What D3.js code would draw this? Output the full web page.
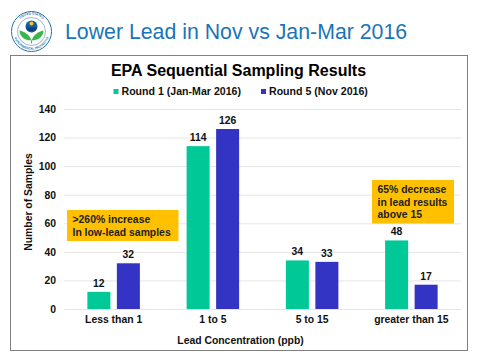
<!DOCTYPE html>
<html>
<head>
<meta charset="utf-8">
<script src="https://cdn.jsdelivr.net/npm/d3@7"></script>
<style>
  html, body { margin: 0; padding: 0; background: #fff; }
  svg { display: block; }
  text { font-family: "Liberation Sans", Arial, sans-serif; }
</style>
</head>
<body>
<svg id="chart" width="480" height="360"></svg>
<script>
const categories = ["Less than 1", "1 to 5", "5 to 15", "greater than 15"];
const round1 = [12, 114, 34, 48];
const round5 = [32, 126, 33, 17];
const seriesNames = ["Round 1 (Jan-Mar 2016)", "Round 5 (Nov 2016)"];
const yTicks = [0, 20, 40, 60, 80, 100, 120, 140];

const greenColor = "#00c896";
const blueColor = "#3333c4";
const noteColor = "#ffc000";
const textColor = "#111";
const titleColor = "#1a75b8";

const svg = d3.select("#chart");

// page title and chart frame
svg.append("text")
    .attr("x", 65)
    .attr("y", 38.5)
    .text("Lower Lead in Nov vs Jan-Mar 2016")
    .style("font-size", "21.3px")
    .style("fill", titleColor);

svg.append("rect")
    .attr("x", 10.5)
    .attr("y", 55.5)
    .attr("width", 457)
    .attr("height", 295)
    .style("fill", "#fff")
    .style("stroke", "#7f7f7f")
    .style("stroke-width", 1);

drawLogo(svg, 31.5, 31.5);

// scales
let x = d3.scaleBand()
    .domain(categories)
    .range([64, 461]);
let y = d3.scaleLinear()
    .domain([0, 140])
    .range([309, 109]);
let xSeries = d3.scaleBand()
    .domain([0, 1])
    .range([0, 52.5])
    .paddingInner(0.22);

// gridlines + axes
svg.append("g")
    .selectAll("line")
    .data(yTicks)
    .enter()
    .append("line")
    .attr("x1", x.range()[0])
    .attr("x2", x.range()[1])
    .attr("y1", d => y(d) + 0.5)
    .attr("y2", d => y(d) + 0.5)
    .style("stroke", "#e6e6e6")
    .style("stroke-width", 1);

let yAxis = svg.append("g")
    .attr("transform", "translate(64,0)")
    .call(d3.axisLeft(y).tickValues(yTicks).tickSize(0).tickPadding(8));
yAxis.select(".domain").remove();
yAxis.selectAll("text")
    .style("font-family", "Liberation Sans")
    .style("font-size", "10.4px")
    .style("font-weight", "bold")
    .style("fill", textColor);

let xAxis = svg.append("g")
    .attr("transform", "translate(0,309)")
    .call(d3.axisBottom(x).tickSize(0).tickPadding(7));
xAxis.select(".domain").remove();
xAxis.selectAll("text")
    .style("font-family", "Liberation Sans")
    .style("font-size", "10.4px")
    .style("font-weight", "bold")
    .style("fill", textColor);

// bars + value labels
addBars(round1, 0, greenColor);
addBars(round5, 1, blueColor);

// titles
svg.append("text")
    .attr("x", 238.5)
    .attr("y", 76)
    .attr("text-anchor", "middle")
    .text("EPA Sequential Sampling Results")
    .style("font-size", "16px")
    .style("font-weight", "bold")
    .style("fill", "#000");

svg.append("text")
    .attr("x", 0)
    .attr("y", 0)
    .attr("transform", "translate(32,202) rotate(-90)")
    .attr("text-anchor", "middle")
    .text("Number of Samples")
    .style("font-size", "10.4px")
    .style("font-weight", "bold")
    .style("fill", textColor);

svg.append("text")
    .attr("x", 240.5)
    .attr("y", 344)
    .attr("text-anchor", "middle")
    .text("Lead Concentration (ppb)")
    .style("font-size", "10.4px")
    .style("font-weight", "bold")
    .style("fill", textColor);

// legend
addLegend(113.5, seriesNames[0], greenColor);
addLegend(261, seriesNames[1], blueColor);

// callouts
addNote(67, 210, 111.5, 31, [">260% increase", "In low-lead samples"]);
addNote(372, 180, 82, 43.5, ["65% decrease", "in lead results", "above 15"]);

function addBars(values, index, color) {
    svg.append("g")
        .selectAll("rect")
        .data(values)
        .enter()
        .append("rect")
        .attr("x", (d, i) => x(categories[i]) + (x.bandwidth() - 52.5) / 2 + xSeries(index))
        .attr("y", d => y(d))
        .attr("width", xSeries.bandwidth())
        .attr("height", d => y(0) - y(d))
        .style("fill", color);
    svg.append("g")
        .selectAll("text")
        .data(values)
        .enter()
        .append("text")
        .attr("x", (d, i) => x(categories[i]) + (x.bandwidth() - 52.5) / 2 + xSeries(index) + xSeries.bandwidth() / 2)
        .attr("y", d => y(d) - 5)
        .attr("text-anchor", "middle")
        .text(d => d)
        .style("font-size", "10.4px")
        .style("font-weight", "bold")
        .style("fill", textColor);
}

function addLegend(lx, name, color) {
    svg.append("rect")
        .attr("x", lx)
        .attr("y", 89)
        .attr("width", 5)
        .attr("height", 5)
        .style("fill", color);
    svg.append("text")
        .attr("x", lx + 8)
        .attr("y", 95)
        .text(name)
        .style("font-size", "10.6px")
        .style("font-weight", "bold")
        .style("fill", textColor);
}

function addNote(nx, ny, w, h, lines) {
    svg.append("rect")
        .attr("x", nx)
        .attr("y", ny)
        .attr("width", w)
        .attr("height", h)
        .style("fill", noteColor);
    svg.append("g")
        .selectAll("text")
        .data(lines)
        .enter()
        .append("text")
        .attr("x", nx + 5.5)
        .attr("y", (d, i) => ny + 13 + i * 12.6)
        .text(d => d)
        .style("font-size", "10.4px")
        .style("font-weight", "bold")
        .style("fill", "#222");
}

function drawLogo(svg, cx, cy) {
    let logo = svg.append("g").attr("transform", "translate(" + cx + "," + cy + ")");
    logo.append("circle").attr("r", 20).style("fill", "#fff").style("stroke", "#2a6fa8").style("stroke-width", 1);
    logo.append("circle").attr("r", 14).style("fill", "#fff").style("stroke", "#2a6fa8").style("stroke-width", 0.5);
    logo.append("path").attr("id", "logoRing").attr("d", "M -16.5 3 A 16.8 16.8 0 1 1 16.5 3").style("fill", "none");
    logo.append("path").attr("id", "logoRingLow").attr("d", "M -17.5 5 A 18.2 18.2 0 0 0 17.5 5").style("fill", "none");
    logo.append("text").append("textPath").attr("href", "#logoRing").attr("startOffset", "50%")
        .attr("text-anchor", "middle").text("UNITED STATES")
        .style("font-size", "3.2px").style("fill", "#2a6fa8").style("font-weight", "bold");
    logo.append("text").append("textPath").attr("href", "#logoRingLow").attr("startOffset", "50%")
        .attr("text-anchor", "middle").text("ENVIRONMENTAL PROTECTION")
        .style("font-size", "3.2px").style("fill", "#2a6fa8").style("font-weight", "bold");
    logo.append("circle").attr("cy", -5).attr("r", 6).style("fill", "#0f5fa8");
    logo.append("path").attr("d", "M -5.5 -4 A 6 6 0 0 0 5.5 -4 Z").style("fill", "#0b3f78");
    logo.append("circle").attr("cy", -8).attr("r", 2).style("fill", "#f2c230");
    logo.append("path").attr("d", "M 0 9 C -2 3 -7 0 -12 -1 C -12 5 -7 9 0 9 Z").style("fill", "#3cb54a");
    logo.append("path").attr("d", "M 0 9 C 2 3 7 0 12 -1 C 12 5 7 9 0 9 Z").style("fill", "#3cb54a");
    logo.append("path").attr("d", "M 0 9 L 0 12").style("stroke", "#3cb54a").style("stroke-width", 1);
}
</script>
</body>
</html>
